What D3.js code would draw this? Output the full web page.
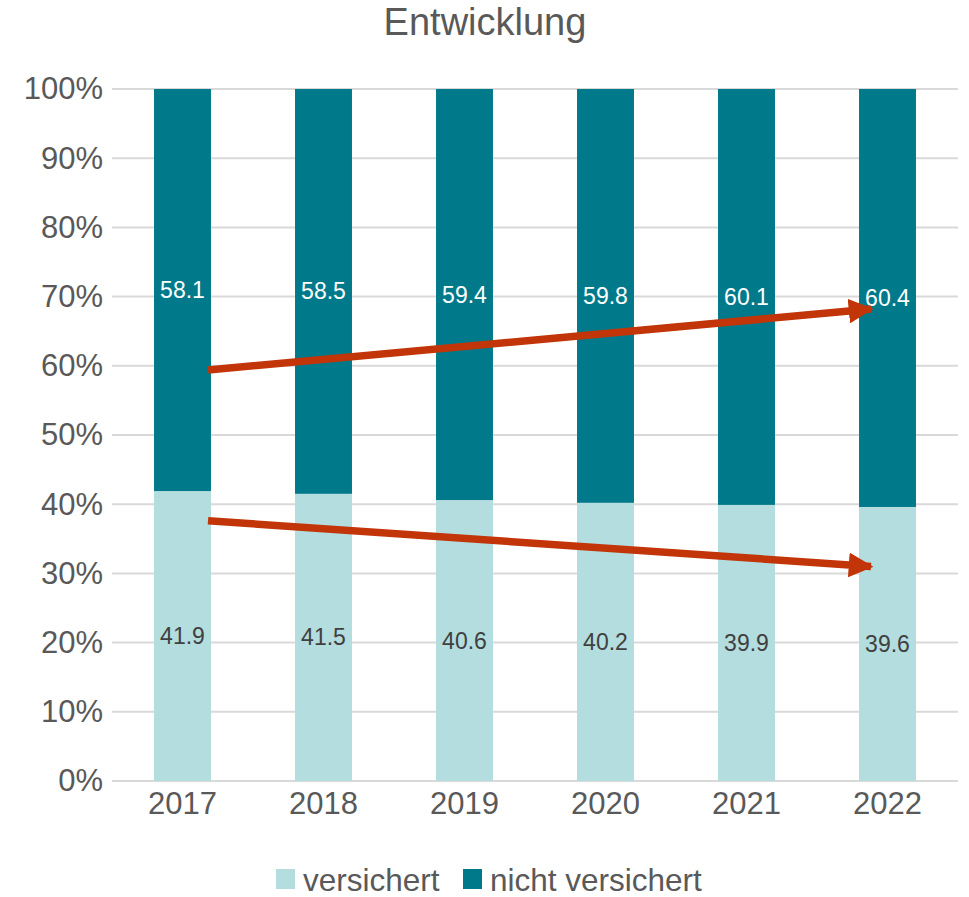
<!DOCTYPE html>
<html lang="de">
<head>
    <meta charset="UTF-8">
    <title>Entwicklung</title>
    <script src="https://cdn.jsdelivr.net/npm/d3@7"></script>
    <style>
        body { margin: 0; background: #fff; }
        text { font-family: "Liberation Sans", Arial, sans-serif; }
    </style>
</head>
<body>
<script>
    // Daten
    var years = ["2017", "2018", "2019", "2020", "2021", "2022"];
    var versichert = [41.9, 41.5, 40.6, 40.2, 39.9, 39.6];
    var nichtVersichert = [58.1, 58.5, 59.4, 59.8, 60.1, 60.4];
    var yTicks = [0, 10, 20, 30, 40, 50, 60, 70, 80, 90, 100];
    var seriesNames = ["versichert", "nicht versichert"];
    // Trendpfeile: [Jahr, Wert] Start und Ende
    var arrowUp = [["2017", 59.4], ["2022", 68.2]];
    var arrowDown = [["2017", 37.6], ["2022", 31.0]];

    var colors = ["#B3DDDE", "#007A8B"];
    var grey = "#595959";
    var red = "#C23508";

    var width = 969, height = 897;
    // Plotbereich (nicht "top" nennen, das ist window.top)
    var plotL = 112, plotR = 958, plotT = 89, plotB = 781;

    var svg = d3.select("body").append("svg")
        .attr("width", width)
        .attr("height", height);

    var x = d3.scaleBand().domain(years).range([plotL, plotR]).paddingInner(0.596).paddingOuter(0.298);
    var y = d3.scaleLinear().domain([0, 100]).range([plotB, plotT]);

    // Titel
    svg.append("text")
        .attr("x", 485).attr("y", 35)
        .attr("text-anchor", "middle")
        .attr("font-size", 38)
        .attr("fill", grey)
        .text("Entwicklung");

    // Gitterlinien
    svg.append("g").selectAll("line")
        .data(yTicks)
        .enter().append("line")
        .attr("x1", plotL).attr("x2", plotR)
        .attr("y1", function (d) { return y(d); })
        .attr("y2", function (d) { return y(d); })
        .attr("stroke", "#D9D9D9")
        .attr("stroke-width", 2);

    // y-Achse
    var yAxis = svg.append("g")
        .attr("transform", "translate(" + (plotL - 9) + ",0)")
        .call(d3.axisLeft(y).tickValues(yTicks).tickSize(0).tickPadding(0)
            .tickFormat(function (d) { return d + "%"; }));
    yAxis.select(".domain").remove();
    yAxis.selectAll("text")
        .attr("font-size", 31)
        .attr("fill", grey)
        .attr("font-family", "Liberation Sans, Arial, sans-serif");

    // x-Achse
    var xAxis = svg.append("g")
        .attr("transform", "translate(0," + plotB + ")")
        .call(d3.axisBottom(x).tickSize(0).tickPadding(11));
    xAxis.select(".domain").remove();
    xAxis.selectAll("text")
        .attr("font-size", 31)
        .attr("fill", grey)
        .attr("font-family", "Liberation Sans, Arial, sans-serif");

    // gestapelte Balken
    var rows = years.map(function (yr, i) {
        return { year: yr, versichert: versichert[i], nicht: nichtVersichert[i] };
    });
    var layers = d3.stack().keys(["versichert", "nicht"])(rows);

    var layerG = svg.append("g").selectAll("g")
        .data(layers)
        .enter().append("g")
        .attr("fill", function (d, i) { return colors[i]; });

    layerG.selectAll("rect")
        .data(function (d) { return d; })
        .enter().append("rect")
        .attr("x", function (d) { return x(d.data.year); })
        .attr("width", x.bandwidth())
        .attr("y", function (d) { return y(d[1]); })
        .attr("height", function (d) { return y(d[0]) - y(d[1]); });

    // Datenbeschriftungen
    layers.forEach(function (layer, li) {
        svg.append("g").selectAll("text")
            .data(layer)
            .enter().append("text")
            .attr("x", function (d) { return x(d.data.year) + x.bandwidth() / 2; })
            .attr("y", function (d) { return y((d[0] + d[1]) / 2); })
            .attr("dy", "0.35em")
            .attr("text-anchor", "middle")
            .attr("font-size", 23)
            .attr("fill", li === 0 ? "#404040" : "#ffffff")
            .text(function (d) { return (d[1] - d[0]).toFixed(1); });
    });

    // Pfeile
    svg.append("defs").append("marker")
        .attr("id", "arrow")
        .attr("viewBox", "0 0 10 10")
        .attr("refX", 9).attr("refY", 5)
        .attr("markerWidth", 3.3).attr("markerHeight", 3.3)
        .attr("markerUnits", "strokeWidth")
        .attr("orient", "auto")
        .append("path")
        .attr("d", "M0,0 L10,5 L0,10 z")
        .attr("fill", red);

    [arrowUp, arrowDown].forEach(function (a) {
        svg.append("line")
            .attr("x1", x(a[0][0]) + x.bandwidth() - 3)
            .attr("y1", y(a[0][1]))
            .attr("x2", x(a[1][0]) + 12)
            .attr("y2", y(a[1][1]))
            .attr("stroke", red)
            .attr("stroke-width", 7.5)
            .attr("marker-end", "url(#arrow)");
    });

    // Legende
    var legend = svg.append("g").attr("transform", "translate(276,869)");
    var offsets = [0, 187];
    seriesNames.forEach(function (name, i) {
        var g = legend.append("g").attr("transform", "translate(" + offsets[i] + ",0)");
        g.append("rect")
            .attr("width", 19).attr("height", 20)
            .attr("fill", colors[i]);
        g.append("text")
            .attr("x", 27).attr("y", 11)
            .attr("dy", "0.35em")
            .attr("font-size", 31.5)
            .attr("fill", grey)
            .text(name);
    });
</script>
</body>
</html>
